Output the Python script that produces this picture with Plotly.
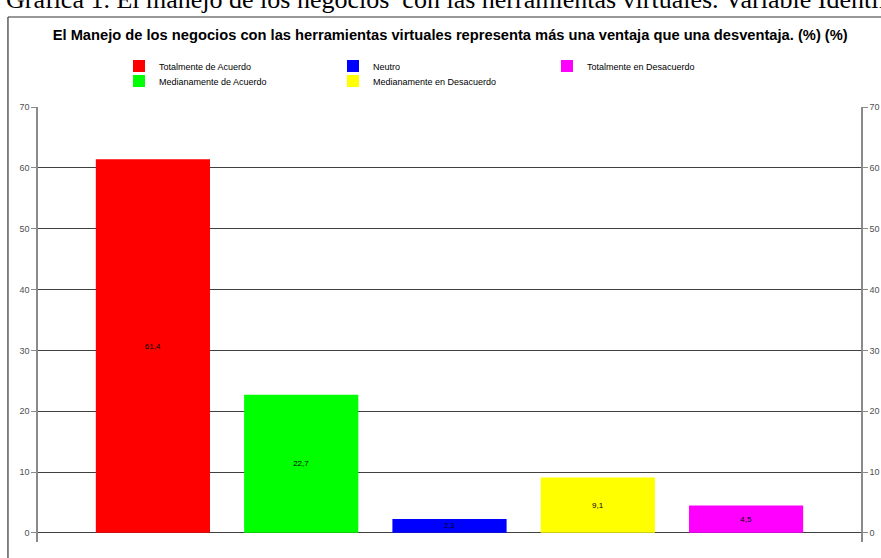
import plotly.graph_objects as go

# Data

categorias = ["Totalmente de Acuerdo", "Medianamente de Acuerdo", "Neutro",
              "Medianamente en Desacuerdo", "Totalmente en Desacuerdo"]
porcentajes = [61.4, 22.7, 2.3, 9.1, 4.5]
etiquetas = ["61,4", "22,7", "2,3", "9,1", "4,5"]
colores = ["#FF0000", "#00FF00", "#0000FF", "#FFFF00", "#FF00FF"]
# fila de la leyenda donde va cada serie (como en la original)
fila_leyenda = ["legend", "legend2", "legend", "legend2", "legend"]
ticks_y = [0, 10, 20, 30, 40, 50, 60, 70]

titulo = ("El Manejo de los negocios con las herramientas virtuales representa "
          "más una ventaja que una desventaja. (%) (%)")
leyenda_doc = ("Gráfica 1. El manejo de los negocios  con las herramientas "
               "virtuales. Variable Identificación")


fig = go.Figure()

for i in range(len(categorias)):
    fig.add_trace(go.Bar(
        x=[categorias[i]], y=[porcentajes[i]],
        name=categorias[i],
        text=[etiquetas[i]],
        textposition="inside", insidetextanchor="middle",
        textfont=dict(size=8, color="#000000", family="Liberation Sans"),
        marker=dict(color=colores[i], line=dict(width=0)),
        width=0.77,
        legend=fila_leyenda[i],
        hoverinfo="skip",
    ))

# traza invisible para el eje derecho
fig.add_trace(go.Scatter(x=[categorias[0]], y=[0], yaxis="y2", mode="markers",
                         marker=dict(opacity=0), showlegend=False, hoverinfo="skip"))

eje_y = dict(
    range=[-1.5, 70], tickvals=ticks_y, showgrid=True,
    gridcolor="#404040", gridwidth=1, zeroline=False,
    showline=True, linecolor="#8a8a8a", linewidth=1.5,
    ticks="outside", ticklen=5, tickcolor="#8a8a8a", automargin=False,
    tickfont=dict(size=9, color="#505050", family="Liberation Sans"),
)

leyenda_base = dict(orientation="h", xref="container", yref="container",
                    x=119 / 881, xanchor="left", yanchor="middle",
                    entrywidth=169, entrywidthmode="pixels",
                    font=dict(size=9, color="#000000", family="Liberation Sans"),
                    bgcolor="rgba(0,0,0,0)")

fig.update_layout(
    width=881, height=558,
    margin=dict(l=38, r=20, t=107, b=16, autoexpand=False),
    paper_bgcolor="white", plot_bgcolor="white",
    barmode="overlay",
    font=dict(family="Liberation Sans"),
    title=dict(text="<b>" + titulo + "</b>", x=0.511, xanchor="center",
               y=1 - 35 / 558, yanchor="middle",
               font=dict(size=14.7, color="#000000", family="Liberation Sans")),
    xaxis=dict(range=[-0.775, 4.775], showticklabels=False, showgrid=False,
               zeroline=False, showline=False, ticks="", automargin=False),
    yaxis=eje_y,
    yaxis2=dict(eje_y, overlaying="y", side="right", matches="y", showgrid=False),
    showlegend=True,
    legend=dict(leyenda_base, y=1 - 66 / 558),
    legend2=dict(leyenda_base, y=1 - 81 / 558),
    shapes=[
        dict(type="line", xref="paper", yref="paper", x0=-0.0365, x1=1.1,
             y0=1.2069, y1=1.2069, line=dict(color="#333333", width=1.2)),
        dict(type="line", xref="paper", yref="paper", x0=-0.0365, x1=-0.0365,
             y0=1.2069, y1=-0.05, line=dict(color="#333333", width=1.2)),
    ],
    annotations=[
        dict(text=leyenda_doc, xref="paper", yref="paper",
             x=(4 - 38) / 823, xanchor="left", y=(542 - 16) / 435, yanchor="bottom",
             showarrow=False, align="left",
             font=dict(size=26, color="#000000", family="Liberation Serif")),
    ],
)

# la página trae 8px de margen por defecto; se quita para que el gráfico ocupe la ventana
fig.write_html("out.html", config={"displayModeBar": False},
               post_script="document.body.style.margin='0';")
